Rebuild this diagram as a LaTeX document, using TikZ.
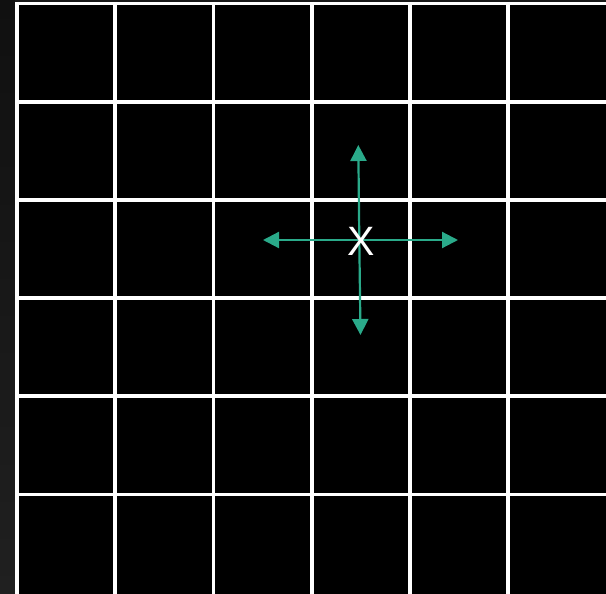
\documentclass[tikz,border=0pt]{standalone}
\usepackage{fontspec}
\setmainfont{Liberation Sans}
\usetikzlibrary{arrows.meta}
\definecolor{teal1}{RGB}{42,170,138}
\tikzset{
  gridline/.style={draw=white,line width=3.8pt},
  dirarrow/.style={draw=teal1,line width=2.2pt,-{Triangle[length=16pt,width=16pt]}}
}
\begin{document}
\begin{tikzpicture}[x=1pt,y=-1pt]
\useasboundingbox (0,0) rectangle (606,594);
\fill[black] (0,0) rectangle (606,594);
\shade[top color={rgb,255:red,16;green,16;blue,16},bottom color={rgb,255:red,32;green,32;blue,32}] (0,0) rectangle (15,594);
\fill[black!90] (15,0) rectangle (606,2);
\foreach \x in {17,115.2,213.4,311.6,409.8,508} {
  \draw[gridline] (\x,2) -- (\x,594);
}
\foreach \y in {3.5,101.7,199.9,298.1,396.3,494.5} {
  \draw[gridline] (15.1,\y) -- (606,\y);
}
\coordinate (c) at (359.3,240);
\coordinate (up) at (358.3,145);
\coordinate (down) at (360.5,335);
\coordinate (left) at (263,240);
\coordinate (right) at (458,240);
\draw[dirarrow] (c) -- (up);
\draw[dirarrow] (c) -- (down);
\draw[dirarrow] (c) -- (left);
\draw[dirarrow] (c) -- (right);
\node[text=white,font=\fontsize{41}{41}\selectfont,inner sep=0pt] (xlabel) at (361.5,241.5) {X};
\end{tikzpicture}
\end{document}
